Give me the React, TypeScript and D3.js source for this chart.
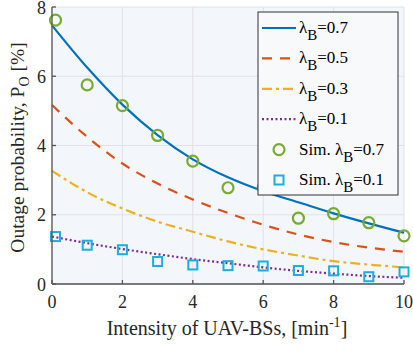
import React from "react";
import * as d3 from "d3";

const xs = [0, 1, 2, 3, 4, 5, 6, 7, 8, 9, 10];
const ana07 = [7.47, 6.25, 5.18, 4.3, 3.6, 3.08, 2.68, 2.36, 2.04, 1.75, 1.48];
const ana05 = [5.17, 4.25, 3.48, 2.9, 2.44, 2.05, 1.71, 1.43, 1.21, 1.05, 0.93];
const ana03 = [3.27, 2.65, 2.18, 1.8, 1.51, 1.23, 1.0, 0.82, 0.66, 0.56, 0.48];
const ana01 = [1.37, 1.18, 1.01, 0.86, 0.72, 0.6, 0.48, 0.38, 0.3, 0.23, 0.18];
const simX = [0.1, 1, 2, 3, 4, 5, 6, 7, 8, 9, 10];
const sim07 = [7.62, 5.75, 5.15, 4.29, 3.55, 2.78, 2.78, 1.9, 2.03, 1.77, 1.39];
const sim01 = [1.37, 1.12, 0.99, 0.65, 0.55, 0.53, 0.52, 0.39, 0.38, 0.21, 0.35];
const xTicks = [0, 2, 4, 6, 8, 10];
const yTicks = [0, 2, 4, 6, 8];
const lineLabels = ["0.7", "0.5", "0.3", "0.1"];

const FONT = "'Liberation Serif', 'Times New Roman', serif";

export default function App() {
  const W = 413, H = 351;
  const L = 52, R = 404, T = 7, B = 284;
  const x = d3.scaleLinear().domain([0, 10]).range([L, R]);
  const y = d3.scaleLinear().domain([0, 8]).range([B, T]);
  const line = d3
    .line<number>()
    .x((_, i) => x(xs[i]))
    .y((d) => y(d))
    .curve(d3.curveMonotoneX);

  const series = [
    { data: ana07, color: "#0072BD", dash: "none" },
    { data: ana05, color: "#D95319", dash: "10 8" },
    { data: ana03, color: "#EDB120", dash: "10 4 3 4" },
    { data: ana01, color: "#7E2F8E", dash: "2 2.5" },
  ];

  const legX = 258, legY = 12, legW = 140, legH = 183;
  const rowH = 30.4;
  const row0 = legY + 16;

  return (
    <svg width={W} height={H} style={{ position: "absolute", left: 0, top: 0 }} fontFamily={FONT}>
      <rect x={0} y={0} width={W} height={H} fill="#fff" />
      <rect x={L} y={T} width={R - L} height={B - T} fill="#f3f6fa" />
      {xTicks.map((t) => (
        <line key={"gx" + t} x1={x(t)} x2={x(t)} y1={T} y2={B} stroke="#dfe2e7" strokeWidth={1} />
      ))}
      {yTicks.map((t) => (
        <line key={"gy" + t} x1={L} x2={R} y1={y(t)} y2={y(t)} stroke="#dfe2e7" strokeWidth={1} />
      ))}
      {/* lines */}
      {series.map((s, i) => (
        <path key={"s" + i} d={line(s.data) || ""} fill="none" stroke={s.color} strokeWidth={2.2} strokeDasharray={s.dash} />
      ))}
      {/* markers */}
      {sim07.map((v, i) => (
        <circle key={"c" + i} cx={x(simX[i])} cy={y(v)} r={5.5} fill="none" stroke="#77AC30" strokeWidth={2.2} />
      ))}
      {sim01.map((v, i) => (
        <rect key={"q" + i} x={x(simX[i]) - 4.5} y={y(v) - 4.5} width={9} height={9} fill="none" stroke="#1AAFE0" strokeWidth={2} />
      ))}
      {/* axes */}
      <line x1={L} x2={L} y1={T} y2={B} stroke="#555" strokeWidth={1.3} />
      <line x1={L} x2={R} y1={B} y2={B} stroke="#555" strokeWidth={1.3} />
      {xTicks.map((t) => (
        <line key={"tx" + t} x1={x(t)} x2={x(t)} y1={B} y2={B - 4} stroke="#555" strokeWidth={1.3} />
      ))}
      {yTicks.map((t) => (
        <line key={"ty" + t} x1={L} x2={L + 4} y1={y(t)} y2={y(t)} stroke="#555" strokeWidth={1.3} />
      ))}
      {xTicks.map((t) => (
        <text key={"lx" + t} x={x(t)} y={B + 24} fontSize={18} textAnchor="middle" fill="#262626">
          {t}
        </text>
      ))}
      {yTicks.map((t) => (
        <text key={"ly" + t} x={L - 6} y={y(t) + 6.5} fontSize={18} textAnchor="end" fill="#262626">
          {t}
        </text>
      ))}
      {/* legend */}
      <rect x={legX} y={legY} width={legW} height={legH} fill="#f8f9fb" stroke="#333" strokeWidth={1} />
      {series.map((s, i) => (
        <g key={"lg" + i}>
          <line x1={legX + 4} x2={legX + 38} y1={row0 + i * rowH} y2={row0 + i * rowH} stroke={s.color} strokeWidth={2.2} strokeDasharray={s.dash} />
          <text x={legX + 41} y={row0 + i * rowH + 5} fontSize={17} fill="#000">
            λ<tspan fontSize={15} dy={7}>B</tspan>
            <tspan dy={-7}>={lineLabels[i]}</tspan>
          </text>
        </g>
      ))}
      <circle cx={legX + 21} cy={row0 + 4 * rowH} r={5.5} fill="none" stroke="#77AC30" strokeWidth={2.2} />
      <text x={legX + 41} y={row0 + 4 * rowH + 5} fontSize={17} fill="#000">
        Sim. λ<tspan fontSize={15} dy={7}>B</tspan>
        <tspan dy={-7}>=0.7</tspan>
      </text>
      <rect x={legX + 16.5} y={row0 + 5 * rowH - 4.5} width={9} height={9} fill="none" stroke="#1AAFE0" strokeWidth={2} />
      <text x={legX + 41} y={row0 + 5 * rowH + 5} fontSize={17} fill="#000">
        Sim. λ<tspan fontSize={15} dy={7}>B</tspan>
        <tspan dy={-7}>=0.1</tspan>
      </text>
      {/* axis labels */}
      <text x={227} y={335} fontSize={20} textAnchor="middle" fill="#262626">
        Intensity of UAV-BSs, [min<tspan fontSize={14} dy={-8}>-1</tspan>
        <tspan dy={8}>]</tspan>
      </text>
      <text transform={`translate(24, ${(T + B) / 2 + 2}) rotate(-90)`} fontSize={19.5} textAnchor="middle" fill="#262626">
        Outage probability, P<tspan fontSize={14} dy={5}>O</tspan>
        <tspan dy={-5}> [%]</tspan>
      </text>
    </svg>
  );
}
